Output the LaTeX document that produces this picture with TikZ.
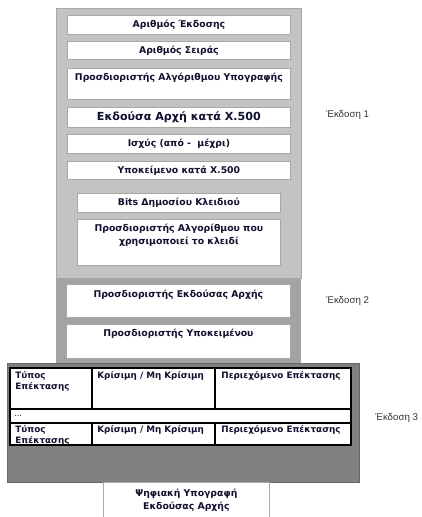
\documentclass[tikz,border=0pt]{standalone}
\usepackage{fontspec}
\setmainfont{DejaVu Sans}
\newfontfamily\labelfont{Liberation Sans}
\usetikzlibrary{positioning}

\begin{document}
\begin{tikzpicture}[x=1pt,y=-1pt,line width=0.8pt,
  field/.style={draw=fieldline, fill=white, anchor=north west, inner sep=0pt,
    minimum width=223pt},
  fieldtext/.style={font=\fontsize{9.3}{12.5}\selectfont\bfseries, text=ink,
    align=center, inner sep=0pt},
  celltext/.style={font=\fontsize{8.8}{11.5}\selectfont\bfseries, text=ink,
    align=left, anchor=north west, inner sep=0pt},
  verlabel/.style={font=\labelfont\fontsize{9.7}{11}\selectfont, text=labelink,
    anchor=west, inner sep=0pt},
  rule/.style={line width=1.8pt, draw=black}]
  \definecolor{verone}{HTML}{C3C3C3}
  \definecolor{vertwo}{HTML}{A3A3A3}
  \definecolor{verthree}{HTML}{808080}
  \definecolor{fieldline}{HTML}{A8A8A8}
  \definecolor{ink}{HTML}{101030}
  \definecolor{labelink}{HTML}{333333}
  \useasboundingbox (0,0) rectangle (422,517);

  % version areas
  \fill[verone, draw=fieldline] (56,8) rectangle (301,278);
  \fill[vertwo] (56,278) rectangle (301,364);
  \fill[verthree, draw=gray!80!black] (7,363) rectangle (359,482);

  % version 1 fields
  \node[field, minimum height=19pt] (version) at (67,15) {};
  \node[fieldtext] (versionT) at (version.center) {Αριθμός Έκδοσης};
  \node[field, minimum height=18pt] (serial) at (67,41) {};
  \node[fieldtext] (serialT) at (serial.center) {Αριθμός Σειράς};
  \node[field, minimum height=31pt] (sigalg) at (67,68) {};
  \node[fieldtext, below=5pt of sigalg.north] (sigalgT) {Προσδιοριστής Αλγόριθμου Υπογραφής};
  \node[field, minimum height=20pt] (issuer) at (67,107) {};
  \node[fieldtext, font=\fontsize{11.1}{13}\selectfont\bfseries] (issuerT) at (issuer.center)
    {Εκδούσα Αρχή κατά Χ.500};
  \node[field, minimum height=19pt] (validity) at (67,134) {};
  \node[fieldtext] (validityT) at (validity.center) {Ισχύς (από -~ μέχρι)};
  \node[field, minimum height=18pt] (subject) at (67,161) {};
  \node[fieldtext] (subjectT) at (subject.center) {Υποκείμενο κατά Χ.500};
  \node[field, minimum width=203pt, minimum height=19pt] (keybits) at (77,193) {};
  \node[fieldtext] (keybitsT) at (keybits.center) {Bits Δημοσίου Κλειδιού};
  \node[field, minimum width=203pt, minimum height=46pt] (keyalg) at (77,219) {};
  \node[fieldtext, below=5pt of keyalg.north] (keyalgT)
    {Προσδιοριστής Αλγορίθμου που\\χρησιμοποιεί το κλειδί};

  % version 2 fields
  \node[field, minimum width=224pt, minimum height=33pt] (issuerid) at (66,284) {};
  \node[fieldtext, below=6pt of issuerid.north] (issueridT) {Προσδιοριστής Εκδούσας Αρχής};
  \node[field, minimum width=224pt, minimum height=34pt] (subjectid) at (66,324) {};
  \node[fieldtext, below=5pt of subjectid.north] (subjectidT) {Προσδιοριστής Υποκειμένου};

  % version 3 extensions
  \fill[white] (10,368) rectangle (351,445);
  \begin{scope}
    \clip (10,368) rectangle (351,445);
    \node[celltext] (typeA) at (15,371) {Τύπος\\Επέκτασης};
    \node[celltext] (critA) at (97,371) {Κρίσιμη / Μη Κρίσιμη};
    \node[celltext] (valueA) at (221,371) {Περιεχόμενο Επέκτασης};
    \node[celltext, font=\fontsize{8}{9}\selectfont] (dots) at (14,415) {...};
    \node[celltext] (typeB) at (15,425) {Τύπος\\Επέκτασης};
    \node[celltext] (critB) at (97,425) {Κρίσιμη / Μη Κρίσιμη};
    \node[celltext] (valueB) at (221,425) {Περιεχόμενο Επέκτασης};
  \end{scope}
  \draw[line width=1.1pt] (10,409) -- (351,409) (10,423) -- (351,423);
  \draw[rule] (92,368) -- (92,409) (215,368) -- (215,409)
    (92,423) -- (92,445) (215,423) -- (215,445);
  \draw[rule] (10,368) rectangle (351,445);

  % signature
  \node[field, minimum width=166pt, minimum height=40pt] (signature) at (103,482) {};
  \node[fieldtext, below=7pt of signature.north] (signatureT)
    {Ψηφιακή Υπογραφή\\Εκδούσας Αρχής};

  \node[verlabel] (ver1) at (326,115) {Έκδοση 1};
  \node[verlabel] (ver2) at (326,301) {Έκδοση 2};
  \node[verlabel] (ver3) at (375,418) {Έκδοση 3};
\end{tikzpicture}
\end{document}
